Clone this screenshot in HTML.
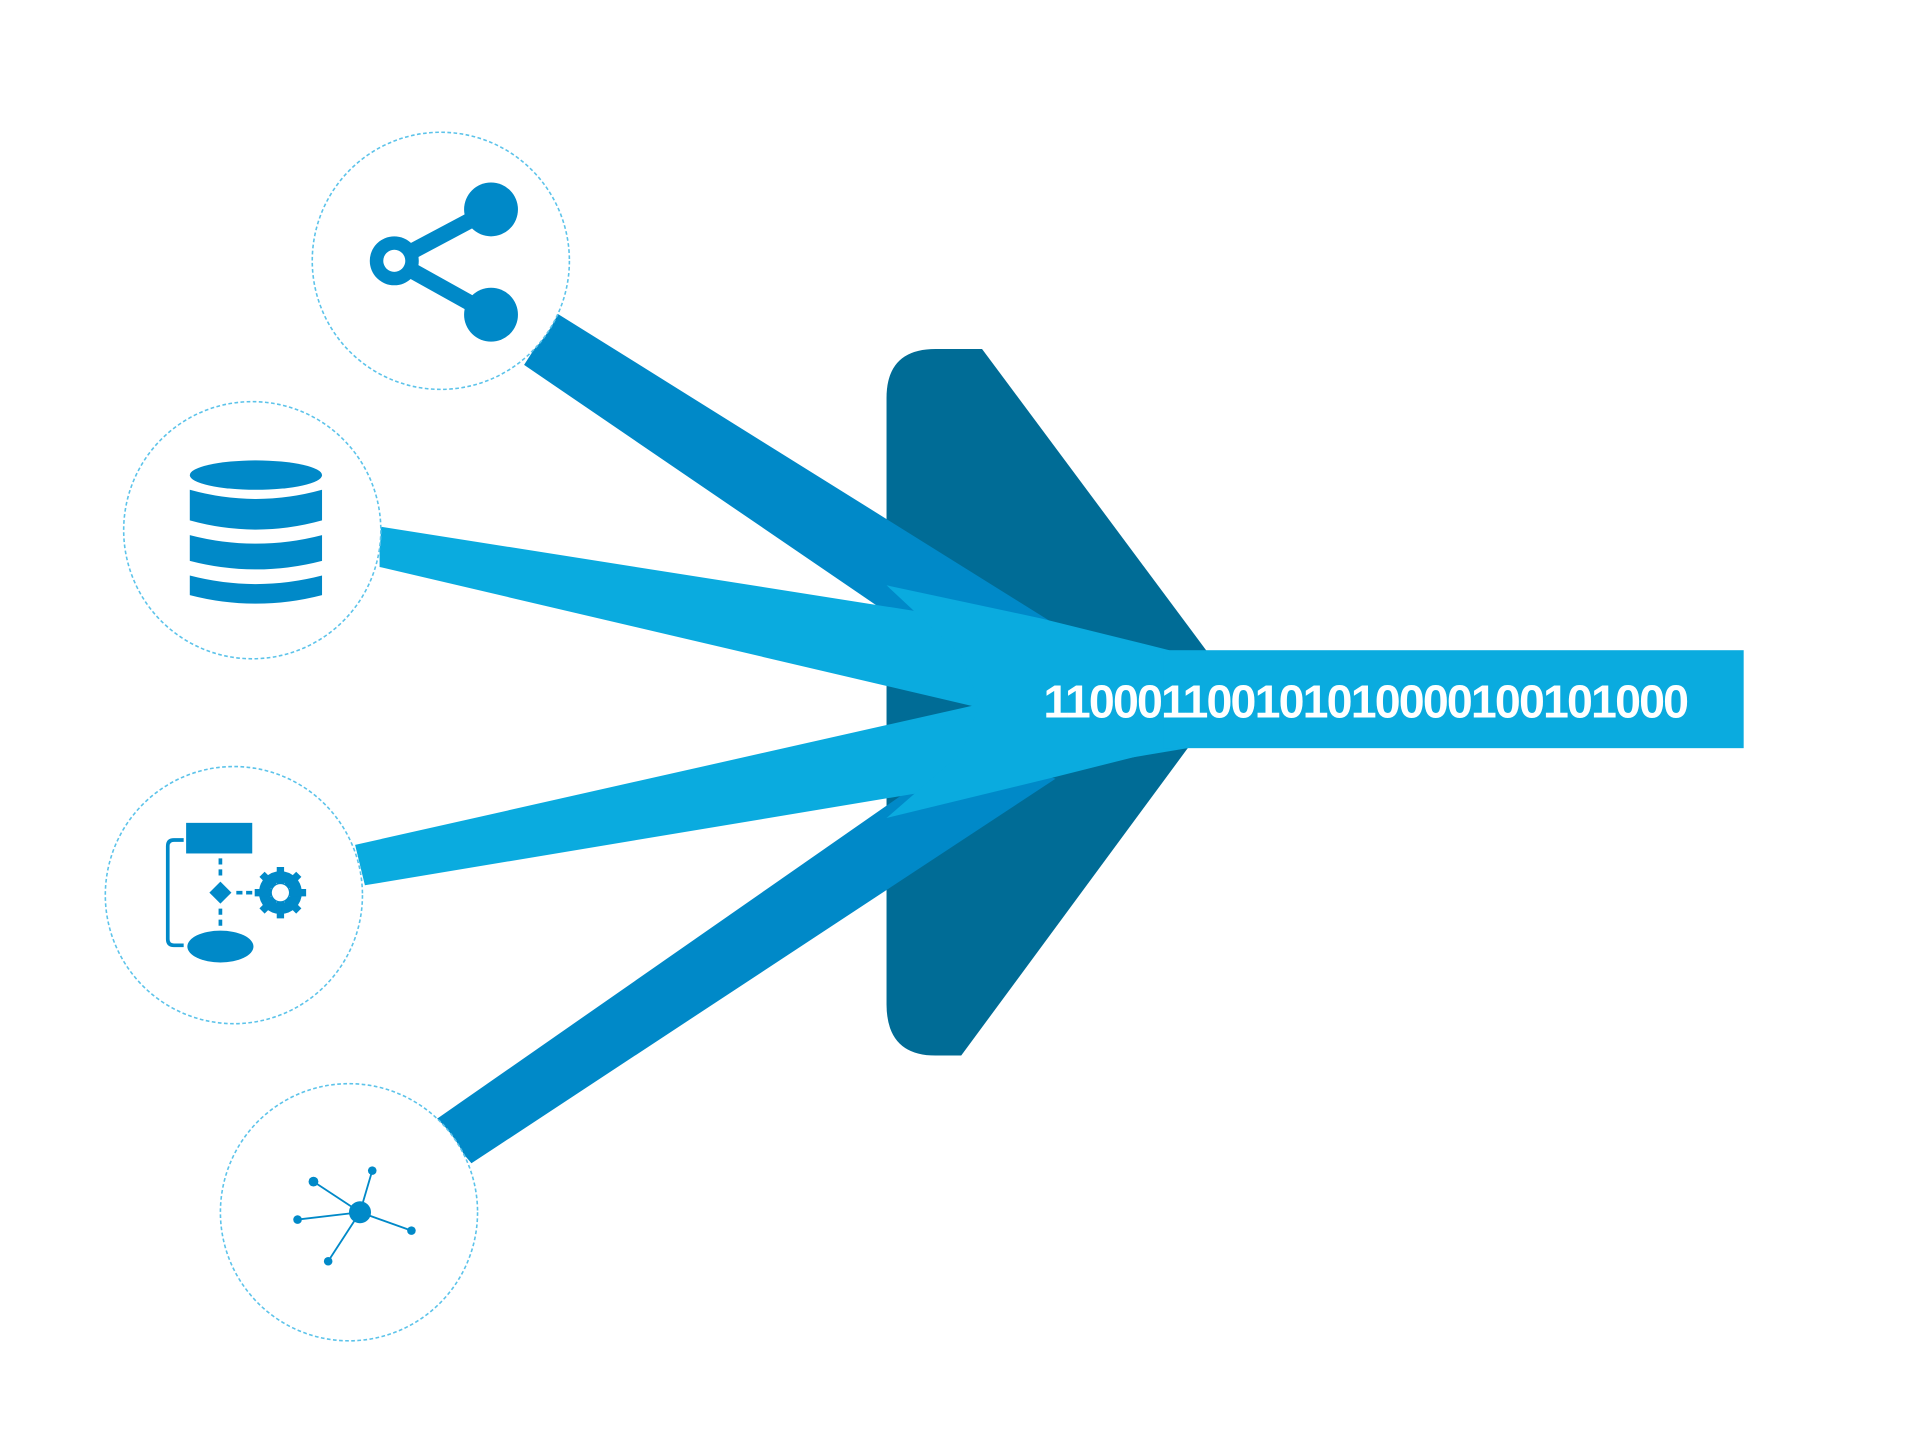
<!DOCTYPE html>
<html><head><meta charset="utf-8"><style>
html,body{margin:0;padding:0;background:#fff;}
svg{display:block;}
</style></head><body>
<svg width="1920" height="1440" viewBox="0 0 1568 1176" preserveAspectRatio="none" xmlns="http://www.w3.org/2000/svg">
<rect width="1568" height="1176" fill="#fff"/>
<path d="M764 285 L802 285 L985 531 L970 611 L785 862 L764 862 Q724 862 724 820 L724 325 Q724 285 764 285 Z" fill="#006c96"/>
<polygon points="455,256 862,510 790,545 428,298" fill="#0089c8"/>
<polygon points="355,915 790,612 862,636 385,950" fill="#0089c8"/>
<polygon points="310,430 950,531 800,578 310,463" fill="#0aabdf"/>
<polygon points="290,690 800,575 970,611 298,723" fill="#0aabdf"/>
<polygon points="724,478 850,505 955,531 955,611 860,635 724,668 785,615 800,575 785,535" fill="#0aabdf"/>
<rect x="950" y="531" width="474" height="80" fill="#0aabdf"/>
<text x="1115" y="586" text-anchor="middle" font-family="Liberation Sans, sans-serif" font-weight="bold" font-size="38" fill="#fff" letter-spacing="-1.5">110001100101010000100101000</text>
<g fill="#fff" stroke="#5cc3ea" stroke-width="1.3" stroke-dasharray="3 2">
<circle cx="360" cy="213" r="105"/>
<circle cx="206" cy="433" r="105"/>
<circle cx="191" cy="731" r="105"/>
<circle cx="285" cy="990" r="105"/>
</g>
<g fill="#0089c8" stroke="#0089c8">
<line x1="322" y1="213" x2="401" y2="171" stroke-width="13"/>
<line x1="322" y1="213" x2="401" y2="257" stroke-width="13"/>
<circle cx="401" cy="171" r="22" stroke="none"/>
<circle cx="401" cy="257" r="22" stroke="none"/>
<circle cx="322" cy="213" r="20" stroke="none"/>
<circle cx="322" cy="213" r="9" fill="#fff" stroke="none"/>
</g>
<g fill="#0089c8">
<path d="M155 400 L155 425 Q209 440 263 425 L263 400 Q209 415 155 400 Z"/>
<path d="M155 437 L155 458 Q209 472 263 458 L263 437 Q209 451 155 437 Z"/>
<path d="M155 470 L155 486 Q209 500 263 486 L263 470 Q209 484 155 470 Z"/>
<ellipse cx="209" cy="388" rx="54" ry="12"/>
</g>
<g fill="#0089c8" stroke="#0089c8">
<rect x="152" y="672" width="54" height="25" stroke="none"/>
<polygon points="180,720 189,729 180,738 171,729" stroke="none"/>
<line x1="180" y1="701" x2="180" y2="716" stroke-width="3" stroke-dasharray="5 4"/>
<line x1="180" y1="742" x2="180" y2="758" stroke-width="3" stroke-dasharray="5 4"/>
<line x1="193" y1="729" x2="208" y2="729" stroke-width="3" stroke-dasharray="5 3"/>
<ellipse cx="180" cy="773" rx="27" ry="13" stroke="none"/>
<path d="M150 686 L142 686 Q137 686 137 691 L137 767 Q137 772 142 772 L150 772" fill="none" stroke-width="3"/>
<circle cx="229" cy="729" r="13" fill="none" stroke-width="9"/>
<g stroke-width="6">
<line x1="229" y1="708" x2="229" y2="750"/>
<line x1="208" y1="729" x2="250" y2="729"/>
<line x1="214" y1="714" x2="244" y2="744"/>
<line x1="244" y1="714" x2="214" y2="744"/>
</g>
<circle cx="229" cy="729" r="7" fill="#fff" stroke="none"/>
</g>
<g fill="#0089c8" stroke="#0089c8" stroke-width="1.5">
<line x1="294" y1="990" x2="256" y2="965"/>
<line x1="294" y1="990" x2="304" y2="956"/>
<line x1="294" y1="990" x2="243" y2="996"/>
<line x1="294" y1="990" x2="336" y2="1005"/>
<line x1="294" y1="990" x2="268" y2="1030"/>
<circle cx="294" cy="990" r="9" stroke="none"/>
<circle cx="256" cy="965" r="4" stroke="none"/>
<circle cx="304" cy="956" r="3.5" stroke="none"/>
<circle cx="243" cy="996" r="3.5" stroke="none"/>
<circle cx="336" cy="1005" r="3.5" stroke="none"/>
<circle cx="268" cy="1030" r="3.5" stroke="none"/>
</g>
</svg>
</body></html>
